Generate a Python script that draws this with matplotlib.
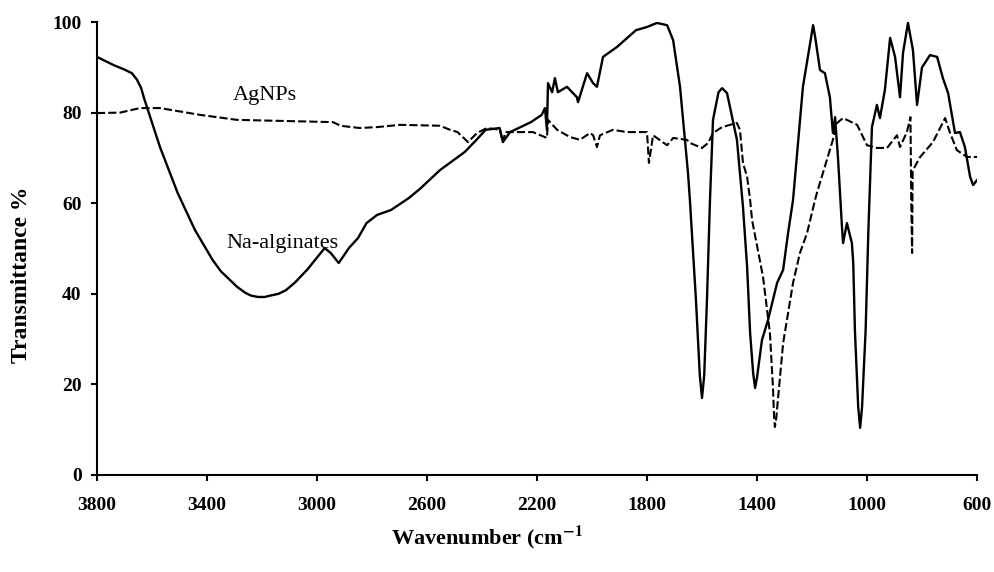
import matplotlib
matplotlib.use("Agg")
import matplotlib.pyplot as plt

# FTIR spectra
na_wn = [3800, 3740, 3700, 3673, 3655, 3640, 3628, 3615, 3571, 3507, 3444, 3380,
         3350, 3316, 3290, 3260, 3240, 3215, 3190, 3170, 3140, 3113, 3080, 3036,
         2972, 2950, 2921, 2884, 2851, 2820, 2782, 2731, 2667,
         2625, 2553, 2463, 2420, 2387, 2336, 2324, 2298, 2260, 2222, 2183, 2171,
         2164, 2160, 2145, 2135, 2124, 2091, 2055, 2051, 2018, 1996, 1982, 1960,
         1909, 1840, 1800, 1764, 1727, 1705, 1680, 1651, 1644, 1622, 1608, 1600,
         1592, 1582, 1571, 1560, 1540, 1527, 1509, 1473, 1451, 1436, 1425, 1414,
         1407, 1400, 1382, 1360, 1327, 1305, 1287, 1269, 1233, 1205, 1196, 1188,
         1171, 1153, 1135, 1124, 1116, 1105, 1091, 1087, 1073, 1055, 1050, 1044,
         1032, 1025, 1018, 1005, 995, 982, 964, 953, 935, 916,
         898, 880, 869, 851, 833, 818, 800, 789, 771, 745, 724, 705, 680, 662,
         644, 625, 614, 600]
na_t = [92.3, 90.5, 89.5, 88.7, 87.3, 85.5, 83.0, 80.6, 72.4, 62.3, 54.1, 47.5,
        45.0, 43.0, 41.5, 40.2, 39.6, 39.3, 39.3, 39.6, 40.0, 40.8, 42.5, 45.3,
        50.1, 49.0, 46.8, 50.1, 52.3, 55.6, 57.4, 58.5, 61.1,
        63.2, 67.3, 71.3, 74.0, 76.2, 76.6, 73.5, 75.7, 76.8, 77.9, 79.5, 81.0,
        76.2, 86.5, 84.5, 87.6, 84.5, 85.7, 83.4, 82.3, 88.7, 86.5, 85.7, 92.3,
        94.5, 98.2, 98.9, 99.8, 99.3, 96.0, 85.7, 66.7, 60.7, 38.6, 22.0, 17.0,
        22.0, 38.6, 60.7, 78.4, 84.5, 85.4, 84.3, 74.0, 59.2, 45.9, 31.3, 22.5,
        19.2, 21.5, 29.8, 34.2, 42.4, 45.3, 53.4, 60.7, 85.7, 96.0, 99.3, 96.5,
        89.4, 88.7, 83.4, 75.5, 79.0, 69.5, 54.7, 51.2, 55.6, 51.2, 46.8, 32.0,
        15.0, 10.4, 15.0, 32.0, 54.0, 76.8, 81.7, 78.8, 85.0, 96.5,
        92.3, 83.4, 93.2, 99.8, 93.8, 81.7, 90.0, 91.0, 92.7, 92.3, 87.6, 84.3, 75.5, 75.7,
        72.4, 65.8, 64.0, 65.1]

ag_wn = [3800, 3716, 3644, 3571, 3425, 3291, 2942, 2921, 2916, 2845, 2782, 2698,
         2553, 2516, 2489, 2451, 2418, 2382, 2335, 2324, 2315, 2273, 2215, 2164,
         2160, 2127, 2080, 2044, 2007, 1996, 1982, 1971, 1924, 1873, 1800, 1793,
         1778, 1727, 1705, 1655, 1644, 1600, 1578, 1560, 1527, 1498, 1473, 1462,
         1451, 1436, 1425, 1418, 1378, 1353, 1342, 1338, 1335, 1330, 1324, 1305, 1269, 1244,
         1218, 1189, 1182, 1124, 1109, 1087, 1036, 1000, 964, 927, 891, 880, 855,
         842, 839, 836, 834, 833, 807, 760, 716, 698, 673, 636, 600]
ag_t = [79.9, 80.0, 81.0, 81.0, 79.5, 78.4, 77.9, 77.3, 77.1, 76.6, 76.8, 77.3,
        77.1, 76.2, 75.7, 73.5, 75.5, 76.6, 76.2, 73.5, 75.7, 75.7, 75.7, 74.4,
        78.4, 76.2, 74.6, 74.0, 75.5, 75.0, 72.4, 75.0, 76.2, 75.7, 75.7, 68.9,
        75.0, 72.8, 74.4, 74.0, 73.3, 72.2, 73.3, 75.5, 76.8, 77.3, 77.7, 76.2,
        68.9, 65.8, 60.7, 56.3, 43.7, 31.3, 19.4, 13.0, 10.6, 12.5, 16.6, 29.1, 42.4, 49.0,
        53.4, 60.7, 62.3, 74.0, 77.7, 78.8, 77.3, 72.8, 72.2, 72.2, 75.0, 72.4, 75.7,
        79.0, 60.0, 49.0, 67.0, 67.3, 70.2, 73.5, 78.8, 75.5, 71.7, 70.2, 70.2]

x_ticks = [3800, 3400, 3000, 2600, 2200, 1800, 1400, 1000, 600]
y_ticks = [0, 20, 40, 60, 80, 100]

plt.rcParams['font.family'] = ['Liberation Serif', 'DejaVu Serif']
plt.rcParams['mathtext.fontset'] = 'stix'

fig = plt.figure(figsize=(9.94, 5.72), dpi=100)
ax = fig.add_axes([0.0976, 0.1696, 0.8853, 0.7919])

ax.plot(na_wn, na_t, color='black', lw=1.7, solid_joinstyle='round')
ax.plot(ag_wn, ag_t, color='black', lw=1.5, dashes=(3.9, 1.5))

ax.set_xlim(3800, 600)
ax.set_ylim(0, 100)
ax.set_xticks(x_ticks)
ax.set_yticks(y_ticks)

for side in ['top', 'right']:
    ax.spines[side].set_visible(False)
for side in ['left', 'bottom']:
    ax.spines[side].set_linewidth(1.5)

ax.tick_params(axis='both', direction='out', length=4, width=1.5, labelsize=14)
ax.tick_params(axis='x', pad=12)
ax.tick_params(axis='y', pad=7)
for lab in ax.get_xticklabels() + ax.get_yticklabels():
    lab.set_fontweight('bold')

ax.text(3189, 83.7, 'AgNPs', fontsize=16, ha='center', va='center')
ax.text(3125, 51.2, 'Na-alginates', fontsize=16, ha='center', va='center')

fig.text(0.022, 0.519, 'Transmittance %', rotation=90, fontsize=17,
         fontweight='bold', ha='center', va='center')
fig.text(0.49, 0.061, r'Wavenumber (cm$^{\mathbf{-1}}$', fontsize=16,
         fontweight='bold', ha='center', va='center')

fig.savefig('out.png', dpi=100)
